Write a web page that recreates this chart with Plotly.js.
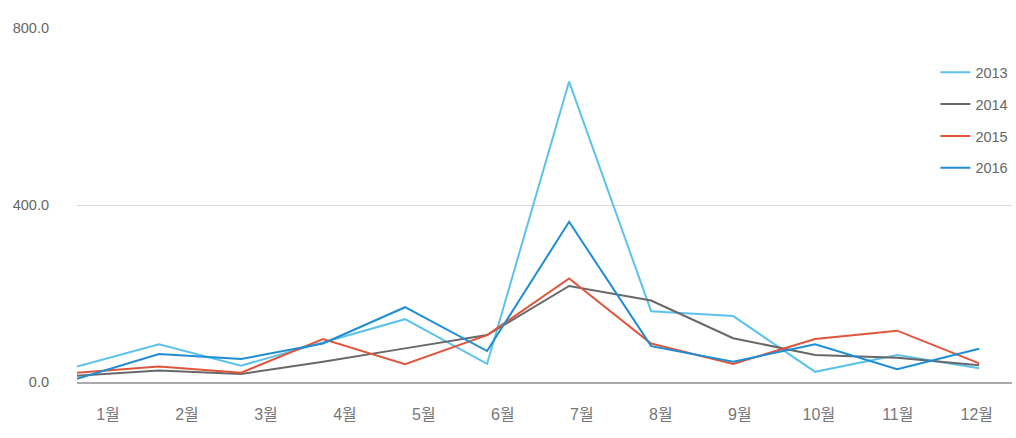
<!DOCTYPE html>
<html>
<head>
<meta charset="utf-8">
<script src="https://cdn.plot.ly/plotly-3.0.1.min.js"></script>
<style>html,body{margin:0;padding:0;background:#fff;}#chart{width:1016px;height:438px;}</style>
</head>
<body>
<div id="chart"></div>
<script>
const months = ['1월','2월','3월','4월','5월','6월','7월','8월','9월','10월','11월','12월'];
const seriesNames = ['2013','2014','2015','2016'];
const v2013 = [35, 85, 37, 90, 142, 41, 679, 160, 149, 23, 61, 31];
const v2014 = [14, 26, 18, 46, 76, 106, 217, 184, 99, 61, 55, 38];
const v2015 = [21, 35, 21, 97, 40, 106, 234, 87, 41, 97, 116, 42];
const v2016 = [7, 63, 52, 87, 169, 70, 362, 81, 46, 85, 29, 75];
const yTicks = [0, 400, 800];

const colors = ['#5cc2ec', '#686868', '#e0553c', '#1f8dd4'];
const allValues = [v2013, v2014, v2015, v2016];
const idx = months.map((m, i) => i);

const traces = allValues.map((vals, k) => ({
  type: 'scatter', mode: 'lines',
  x: idx, y: vals, name: seriesNames[k],
  legendgroup: 'g' + k,
  line: {color: colors[k], width: 2},
  hoverinfo: 'skip'
}));

// label positions are shifted relative to points as in the reference
const tickPos = idx.map(i => 0.378 + i * 0.963);

const layout = {
  width: 1016, height: 438,
  margin: {l: 77, r: 4, t: 28, b: 56, autoexpand: false},
  paper_bgcolor: '#fff', plot_bgcolor: '#fff',
  font: {family: 'Liberation Sans, Noto Sans CJK KR, sans-serif', color: '#666'},
  showlegend: true,
  legend: {
    x: 1.0015, xanchor: 'right', y: 0.92, yanchor: 'top',
    font: {size: 14.5, color: '#666'},
    tracegroupgap: 10, bgcolor: 'rgba(0,0,0,0)'
  },
  xaxis: {
    range: [0, 11.4], showgrid: false, zeroline: false,
    showline: true, linecolor: '#aaa', linewidth: 2,
    tickvals: tickPos, ticktext: months, ticks: '',
    tickfont: {size: 16, color: '#777'}, ticklabelstandoff: 17
  },
  yaxis: {
    range: [0, 800], tickvals: yTicks, tickformat: '.1f',
    showgrid: true, gridcolor: '#d8d8d8', gridwidth: 1,
    zeroline: false, showline: false, ticks: '',
    tickfont: {size: 14.5, color: '#666'}, ticklabelstandoff: 27
  }
};

Plotly.newPlot('chart', traces, layout, {displayModeBar: false, staticPlot: true});
</script>
</body>
</html>
